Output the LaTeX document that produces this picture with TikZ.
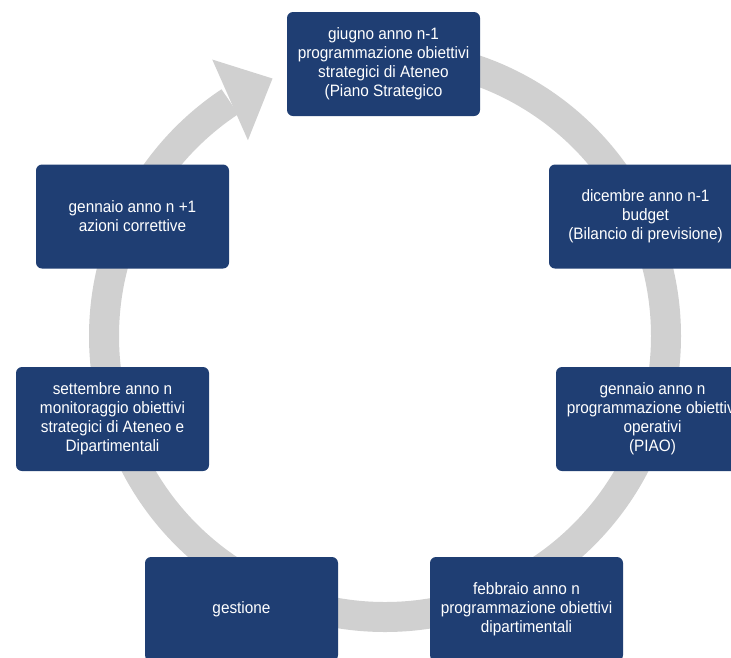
\documentclass[tikz,border=0pt]{standalone}
\usepackage{fontspec}
\setmainfont{Liberation Sans}[FakeStretch=0.93]
\usepackage{tikz}
\usetikzlibrary{calc}
\definecolor{boxblue}{RGB}{31,62,115}
\definecolor{ringgray}{RGB}{208,208,208}
\newcommand\ringradius{281}

\begin{document}
\begin{tikzpicture}[x=1pt, y=-1pt,
    cyclebox/.style={rounded corners=6pt, fill=boxblue, text=white, align=center,
        minimum width=193pt, minimum height=104pt, inner sep=0pt,
        font=\fontsize{16.5}{19}\selectfont}]
        \useasboundingbox (0,0) rectangle (731,657);
        \clip (0,0) rectangle (731,657);
        \coordinate (ctr) at (385, 336);
        \draw[ringgray, line width=30pt] ($(ctr)+(-90:\ringradius)$) arc[start angle=-90, end angle=236.5, radius=\ringradius];
        \fill[ringgray] ($(ctr)+(-113.6:\ringradius)$) -- ($(ctr)+(-122:326)$) -- ($(ctr)+(-125:239)$) -- cycle;
        \node[cyclebox] (giugno) at (383.5, 64)    {giugno anno n-1\\programmazione obiettivi\\strategici di Ateneo\\(Piano Strategico};
        \node[cyclebox] (dicembre) at (645.5, 216.5) {dicembre anno n-1\\budget\\(Bilancio di previsione)};
        \node[cyclebox] (gennaio) at (652.5, 419)  {gennaio anno n\\programmazione obiettivi\\operativi\\(PIAO)};
        \node[cyclebox] (febbraio) at (526.5, 609) {febbraio anno n\\programmazione obiettivi\\dipartimentali};
        \node[cyclebox] (gestione) at (241.5, 609) {gestione};
        \node[cyclebox] (settembre) at (112.5, 419) {settembre anno n\\monitoraggio obiettivi\\strategici di Ateneo e\\Dipartimentali};
        \node[cyclebox] (correttive) at (132.5, 216.5) {gennaio anno n +1\\azioni correttive};
    \end{tikzpicture}
\end{document}
